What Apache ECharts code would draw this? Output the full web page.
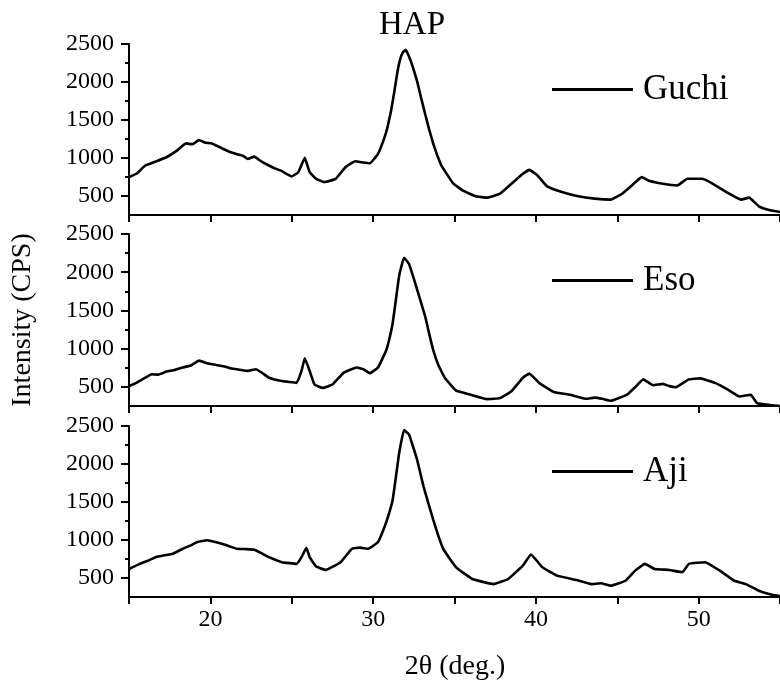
<!DOCTYPE html>
<html>
<head>
<meta charset="utf-8">
<script src="https://cdn.jsdelivr.net/npm/echarts@6/dist/echarts.min.js"></script>
<style>html,body{margin:0;padding:0;background:#fff}#c{width:780px;height:685px}</style>
</head>
<body>
<div id="c"></div>
<script>
const titleText = 'HAP';
const seriesNames = ['Guchi', 'Eso', 'Aji'];
const xTickLabels = [20, 30, 40, 50];
const yTickLabels = [500, 1000, 1500, 2000, 2500];
const yMinorTicks = [750, 1250, 1750, 2250];

const guchiX = [15.0,15.5,16.0,16.6,17.3,17.9,18.5,18.9,19.3,19.7,20.1,20.8,21.2,21.6,22.0,22.3,22.7,23.1,23.6,24.0,24.4,25.0,25.4,25.8,26.1,26.5,27.0,27.7,28.3,28.9,29.4,29.8,30.3,30.7,30.9,31.1,31.3,31.5,31.65,31.8,32.0,32.2,32.45,32.7,32.95,33.2,33.45,33.7,33.95,34.2,34.9,35.5,36.3,37.0,37.8,38.5,39.2,39.6,40.1,40.7,41.6,42.6,43.6,44.6,45.3,45.9,46.5,47.0,47.8,48.7,49.3,50.2,50.8,51.7,52.6,53.1,53.7,54.4,55.0];
const guchiY = [748,800,901,950,1010,1090,1192,1180,1236,1200,1192,1118,1080,1053,1030,988,1018,960,901,860,827,757,814,1001,814,726,683,726,879,957,940,931,1053,1271,1420,1619,1870,2142,2290,2381,2425,2338,2190,2011,1790,1576,1370,1184,1030,901,670,574,496,478,530,661,792,844,770,626,552,496,465,452,530,639,748,696,661,639,726,726,670,552,452,478,365,313,290];

const esoX = [15.0,15.5,16.0,16.4,16.8,17.3,17.8,18.3,18.8,19.3,19.8,20.3,20.8,21.3,21.8,22.3,22.8,23.2,23.6,24.4,25.3,25.6,25.8,26.1,26.4,26.9,27.5,28.2,29.0,29.4,29.8,30.3,30.8,31.0,31.2,31.4,31.6,31.9,32.2,32.45,32.7,32.95,33.2,33.45,33.7,34.0,34.4,35.1,36.0,37.0,37.8,38.5,39.2,39.6,40.2,41.1,42.1,43.1,43.6,44.1,44.6,45.6,46.1,46.6,47.2,47.8,48.2,48.6,49.4,50.1,51.0,51.8,52.5,53.2,53.6,54.4,55.0];
const esoY = [509,560,620,665,660,700,720,754,780,843,810,789,770,740,725,709,731,680,620,576,553,709,874,709,531,487,531,687,754,730,678,754,976,1130,1332,1640,1955,2190,2111,1950,1777,1600,1421,1190,976,790,620,451,398,340,353,442,620,674,553,433,398,344,360,344,318,398,496,598,522,540,510,496,598,611,553,464,375,398,286,264,250];

const ajiX = [15.0,15.6,16.2,16.7,17.1,17.7,18.3,18.8,19.2,19.8,20.3,20.7,21.2,21.6,22.2,22.7,23.1,23.6,24.4,25.3,25.6,25.9,26.1,26.5,27.1,28.0,28.7,29.2,29.7,30.3,30.7,30.95,31.2,31.4,31.6,31.9,32.2,32.45,32.7,32.9,33.1,33.4,33.7,34.0,34.3,35.1,36.1,37.4,38.3,39.2,39.7,40.4,41.3,42.5,43.4,44.0,44.6,45.5,46.1,46.7,47.3,48.2,49.0,49.4,50.4,51.3,52.2,52.9,53.7,54.5,55.0];
const ajiY = [619,680,730,780,796,820,885,930,973,996,975,951,915,885,880,872,830,774,708,686,774,898,774,650,606,708,885,900,885,973,1172,1330,1527,1830,2146,2447,2389,2230,2058,1880,1703,1480,1261,1060,885,641,487,420,487,664,810,641,531,473,420,430,398,464,597,686,619,606,575,686,708,597,464,420,332,279,262];

const xs = [guchiX, esoX, ajiX];
const ys = [guchiY, esoY, ajiY];

const FONT = 'Liberation Serif';
const grids = [
  {left: 129, top: 44, width: 658.5, height: 171},
  {left: 129, top: 234, width: 658.5, height: 172},
  {left: 129, top: 426, width: 658.5, height: 171}
];
const legendTops = [72, 263, 454];

const xAxes = [], yAxes = [], series = [], legends = [];
for (let i = 0; i < 3; i++) {
  xAxes.push({
    type: 'value', gridIndex: i, min: 15, max: 55, interval: 5,
    axisLine: {show: true, onZero: false, lineStyle: {color: '#000', width: 2}},
    axisTick: {show: true, inside: false, length: 7, lineStyle: {color: '#000', width: 2}},
    axisLabel: {show: i === 2, customValues: xTickLabels, formatter: v => String(v), fontSize: 24, color: '#000', fontFamily: FONT, margin: 11},
    splitLine: {show: false}
  });
  yAxes.push({
    type: 'value', gridIndex: i, min: 250, max: 2500, position: 'left',
    axisLine: {show: true, lineStyle: {color: '#000', width: 2}},
    axisTick: {show: true, inside: false, length: 8, customValues: yTickLabels, lineStyle: {color: '#000', width: 2}},
    axisLabel: {show: true, customValues: yTickLabels, formatter: v => String(v), fontSize: 24, color: '#000', fontFamily: FONT, margin: 15},
    splitLine: {show: false}
  });
  yAxes.push({
    type: 'value', gridIndex: i, min: 250, max: 2500, position: 'left',
    axisLine: {show: false},
    axisTick: {show: true, inside: false, length: 4, customValues: yMinorTicks, lineStyle: {color: '#000', width: 2}},
    axisLabel: {show: false},
    splitLine: {show: false}
  });
  series.push({
    name: seriesNames[i], type: 'line', xAxisIndex: i, yAxisIndex: 2 * i,
    data: xs[i].map((x, k) => [x, ys[i][k]]),
    symbol: 'none', showSymbol: false, smooth: 0.1,
    lineStyle: {color: '#000', width: 2.6}, itemStyle: {color: '#000'},
    clip: true
  });
  legends.push({
    data: [seriesNames[i]], left: 552, top: legendTops[i], padding: 0,
    icon: 'rect', itemWidth: 81, itemHeight: 3,
    textStyle: {fontSize: 35, color: '#000', fontFamily: FONT, padding: [0, 0, 0, 5]},
    selectedMode: false
  });
}

const chart = echarts.init(document.getElementById('c'));
chart.setOption({
  animation: false,
  backgroundColor: '#fff',
  title: {text: titleText, left: 407, textAlign: 'center', top: 4,
    textStyle: {fontSize: 33, fontWeight: 'normal', color: '#000', fontFamily: FONT}},
  grid: grids,
  xAxis: xAxes,
  yAxis: yAxes,
  legend: legends,
  series: series,
  graphic: [
    {type: 'text', x: 23, y: 320, rotation: Math.PI / 2,
     style: {text: 'Intensity (CPS)', font: '28px "Liberation Serif"', fill: '#000', textAlign: 'center', textVerticalAlign: 'middle'}},
    {type: 'text', x: 455, y: 667,
     style: {text: '2θ (deg.)', font: '28px "Liberation Serif"', fill: '#000', textAlign: 'center', textVerticalAlign: 'middle'}}
  ]
});
</script>
</body>
</html>
